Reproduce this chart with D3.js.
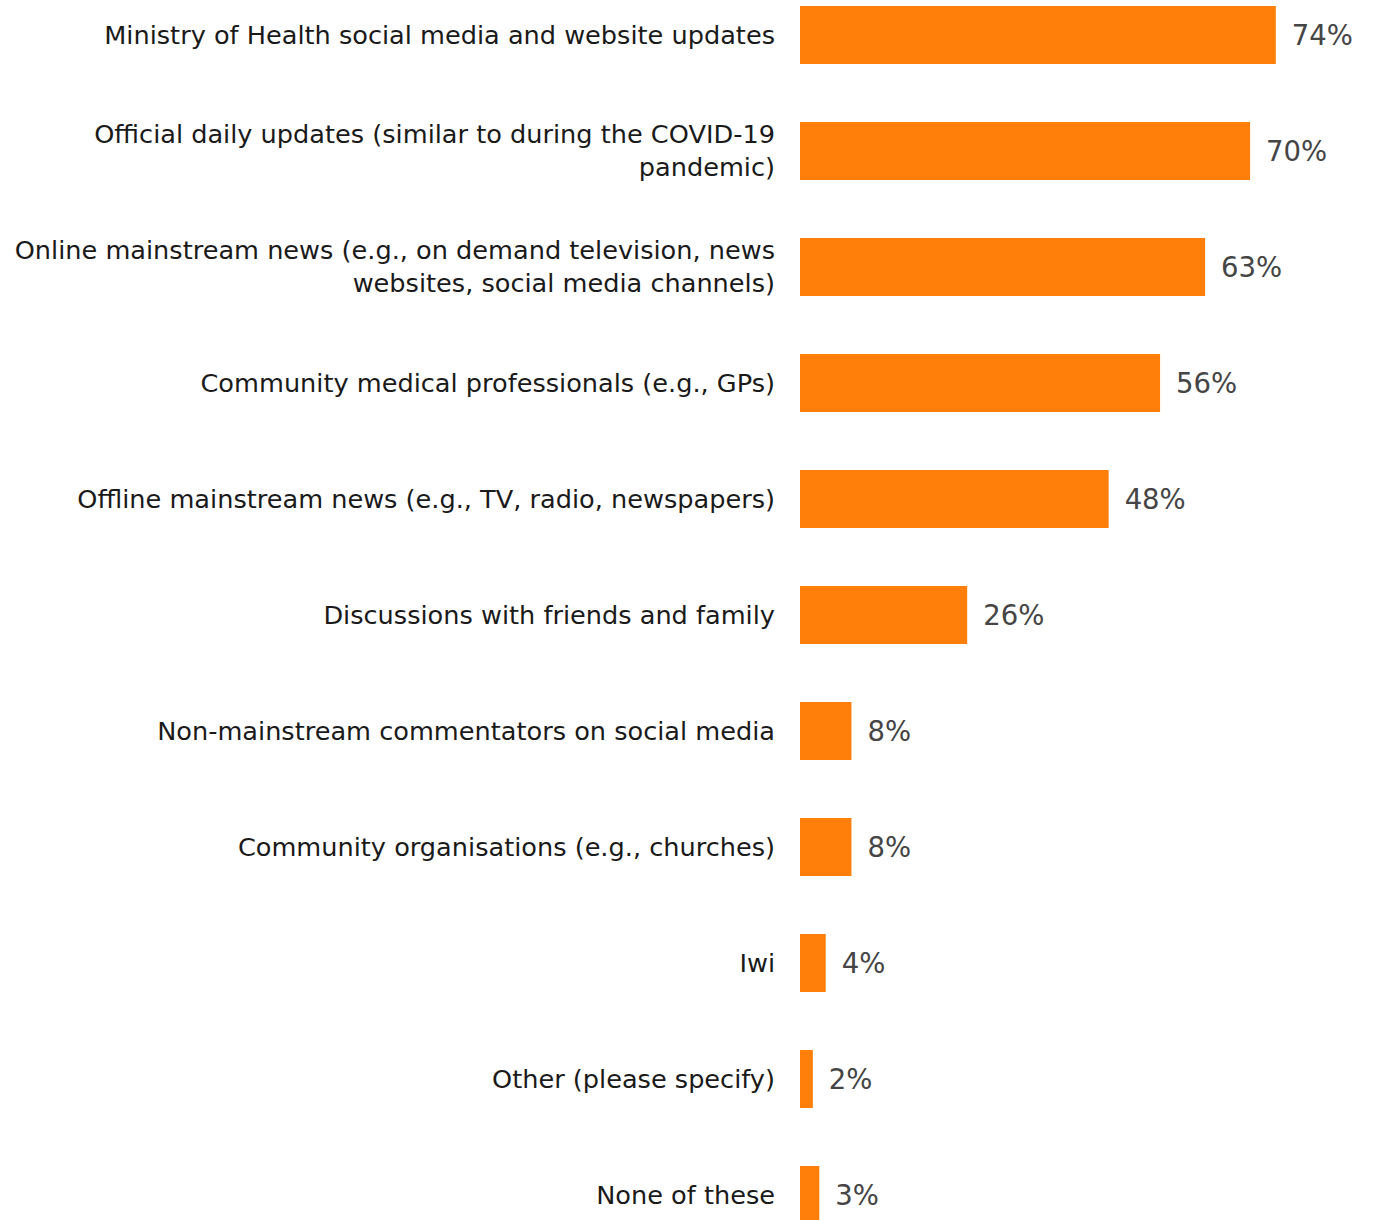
<!DOCTYPE html>
<html>
<head>
<meta charset="utf-8">
<script src="https://cdn.jsdelivr.net/npm/d3@7"></script>
<style>
  html, body { margin: 0; padding: 0; background: #ffffff; }
  svg { display: block; }
</style>
</head>
<body>
<script>
// Information sources people would use (share of respondents, %)
const categories = [
  ["Ministry of Health social media and website updates"],
  ["Official daily updates (similar to during the COVID-19", "pandemic)"],
  ["Online mainstream news (e.g., on demand television, news", "websites, social media channels)"],
  ["Community medical professionals (e.g., GPs)"],
  ["Offline mainstream news (e.g., TV, radio, newspapers)"],
  ["Discussions with friends and family"],
  ["Non-mainstream commentators on social media"],
  ["Community organisations (e.g., churches)"],
  ["Iwi"],
  ["Other (please specify)"],
  ["None of these"]
];
const values = [74, 70, 63, 56, 48, 26, 8, 8, 4, 2, 3];
const valueLabels = ["74%", "70%", "63%", "56%", "48%", "26%", "8%", "8%", "4%", "2%", "3%"];

const W = 1379, H = 1220;
const svg = d3.select("body").append("svg").attr("width", W).attr("height", H);

const keys = categories.map((c, i) => i);
const y = d3.scaleBand().domain(keys).range([6, 1224]).paddingInner(0.5).paddingOuter(0);
const x = d3.scaleLinear().domain([0, 100]).range([800, 1443]);

// Bars
svg.append("g").selectAll("rect")
  .data(values)
  .join("rect")
  .attr("x", x(0))
  .attr("y", (d, i) => y(i))
  .attr("width", d => x(d) - x(0))
  .attr("height", y.bandwidth())
  .attr("fill", "#ff7f0a");

// Category labels, right-aligned against the bars
const labelFont = "'DejaVu Sans', sans-serif";
const lineGap = 33;
const lab = svg.append("g").selectAll("text")
  .data(categories)
  .join("text")
  .attr("text-anchor", "end")
  .attr("font-family", labelFont)
  .attr("font-size", 25.6)
  .attr("fill", "#1a1a1a");
lab.each(function(lines, i) {
  const cy = y(i) + y.bandwidth() / 2;
  const t = d3.select(this);
  lines.forEach((ln, k) => {
    t.append("tspan")
      .attr("x", 775)
      .attr("y", cy + (k - (lines.length - 1) / 2) * lineGap)
      .attr("dy", "0.35em")
      .text(ln);
  });
});

// Value labels at the bar ends
svg.append("g").selectAll("text")
  .data(values)
  .join("text")
  .attr("x", d => x(d) + 16)
  .attr("y", (d, i) => y(i) + y.bandwidth() / 2)
  .attr("dy", "0.37em")
  .attr("font-family", labelFont)
  .attr("font-size", 27.5)
  .attr("fill", "#454545")
  .text((d, i) => valueLabels[i]);
</script>
</body>
</html>
